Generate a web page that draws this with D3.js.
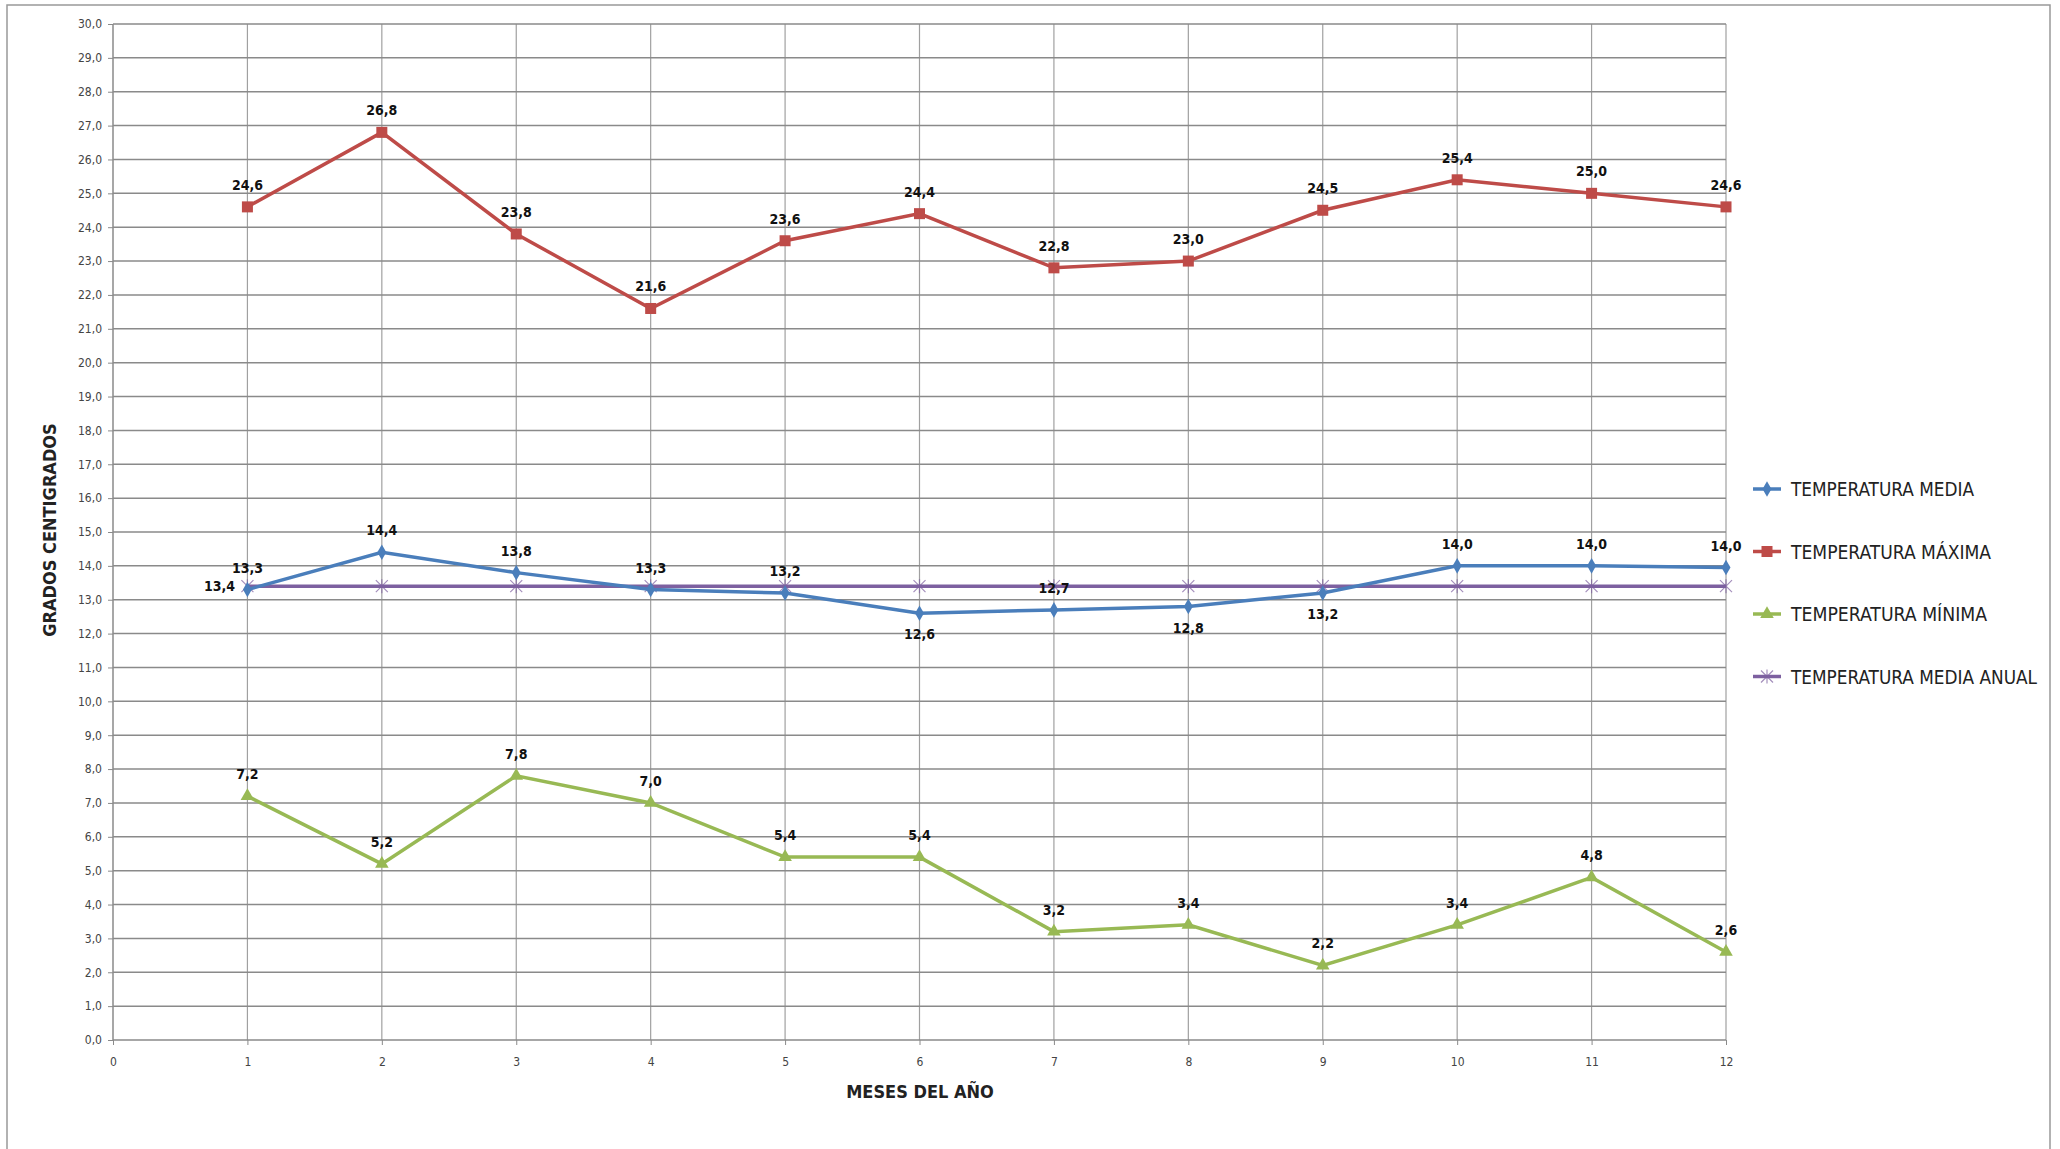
<!DOCTYPE html>
<html><head><meta charset="utf-8">
<script src="https://cdnjs.cloudflare.com/ajax/libs/d3/7.8.5/d3.min.js"></script>
<style>body{margin:0;background:#fff}svg{display:block}</style>
</head><body>
<svg id="c" width="2060" height="1149"></svg>
<script>
var months = [1,2,3,4,5,6,7,8,9,10,11,12];
var media = [13.3,14.4,13.8,13.3,13.2,12.6,12.7,12.8,13.2,14.0,14.0,13.95];
var mediaLabels = ['13,3','14,4','13,8','13,3','13,2','12,6','12,7','12,8','13,2','14,0','14,0','14,0'];
var mediaBelow = [false,false,false,false,false,true,false,true,true,false,false,false];
var maxima = [24.6,26.8,23.8,21.6,23.6,24.4,22.8,23.0,24.5,25.4,25.0,24.6];
var minima = [7.2,5.2,7.8,7.0,5.4,5.4,3.2,3.4,2.2,3.4,4.8,2.6];
var anual = [13.4,13.4,13.4,13.4,13.4,13.4,13.4,13.4,13.4,13.4,13.4,13.4];
var seriesNames = ['TEMPERATURA MEDIA','TEMPERATURA MÁXIMA','TEMPERATURA MÍNIMA','TEMPERATURA MEDIA ANUAL'];
var legendWidths = [183, 200, 196, 246];

var svg = d3.select('#c');
var fmt = function (v) { return d3.format('.1f')(v).replace('.', ','); };
var FONT = 'DejaVu Sans Condensed, Liberation Sans, sans-serif';

svg.append('rect').attr('x', 7).attr('y', 5).attr('width', 2043).attr('height', 1160)
  .attr('fill', 'none').attr('stroke', '#999').attr('stroke-width', 1.5);

var x = d3.scaleLinear().domain([0, 12]).range([113, 1726]);
var y = d3.scaleLinear().domain([0, 30]).range([1040, 24]);

// gridlines
svg.append('g').selectAll('line').data(d3.range(1, 13)).enter().append('line')
  .attr('x1', function (d) { return x(d); }).attr('x2', function (d) { return x(d); })
  .attr('y1', y(30)).attr('y2', y(0)).attr('stroke', '#a0a0a0').attr('stroke-width', 1.2);
svg.append('g').selectAll('line').data(d3.range(0, 31)).enter().append('line')
  .attr('x1', x(0)).attr('x2', x(12))
  .attr('y1', function (d) { return y(d); }).attr('y2', function (d) { return y(d); })
  .attr('stroke', '#8a8a8a').attr('stroke-width', 1.5);
svg.append('line').attr('x1', x(0)).attr('x2', x(0)).attr('y1', y(30)).attr('y2', y(0))
  .attr('stroke', '#8a8a8a').attr('stroke-width', 1.5);

// axes
var yAxis = svg.append('g').attr('transform', 'translate(' + x(0) + ',0)')
  .call(d3.axisLeft(y).tickValues(d3.range(0, 31)).tickFormat(fmt).tickSize(5).tickPadding(6));
var xAxis = svg.append('g').attr('transform', 'translate(0,' + y(0) + ')')
  .call(d3.axisBottom(x).tickValues(d3.range(0, 13)).tickFormat(d3.format('d')).tickSize(5).tickPadding(12));
[yAxis, xAxis].forEach(function (a) {
  a.select('.domain').remove();
  a.selectAll('line').attr('stroke', '#8a8a8a');
  a.selectAll('text').attr('font-family', FONT).attr('font-size', 12).attr('fill', '#444');
});

svg.append('text').attr('x', 920).attr('y', 1098).attr('text-anchor', 'middle')
  .attr('font-family', FONT).attr('font-weight', 'bold')
  .attr('font-size', 18).attr('fill', '#222').text('MESES DEL AÑO');
svg.append('text').attr('transform', 'translate(56,530) rotate(-90)').attr('text-anchor', 'middle')
  .attr('font-family', FONT).attr('font-weight', 'bold')
  .attr('font-size', 18).attr('fill', '#222').text('GRADOS CENTIGRADOS');

var colors = ['#4a7ebb', '#be4b48', '#98b954', '#7d60a0'];
var data = [media, maxima, minima, anual];
var line = d3.line().x(function (d, i) { return x(months[i]); }).y(function (d) { return y(d); });

function marker(g, k, cx, cy) {
  if (k === 0) g.append('path').attr('d', d3.symbol(d3.symbolDiamond, 70)()).attr('transform', 'translate(' + cx + ',' + cy + ')').attr('fill', colors[0]);
  if (k === 1) g.append('rect').attr('x', cx - 5.5).attr('y', cy - 5.5).attr('width', 11).attr('height', 11).attr('fill', colors[1]);
  if (k === 2) g.append('path').attr('d', d3.symbol(d3.symbolTriangle, 80)()).attr('transform', 'translate(' + cx + ',' + cy + ')').attr('fill', colors[2]);
  if (k === 3) g.append('path').attr('d', 'M-6,-6L6,6M-6,6L6,-6M0,-7L0,7').attr('transform', 'translate(' + cx + ',' + cy + ')')
    .attr('stroke', colors[3]).attr('stroke-width', 1.2).attr('fill', 'none').attr('opacity', 0.7);
}

[3, 0, 1, 2].forEach(function (k) {
  var g = svg.append('g');
  g.append('path').datum(data[k]).attr('d', line).attr('fill', 'none')
    .attr('stroke', colors[k]).attr('stroke-width', 3.5);
  data[k].forEach(function (v, i) { marker(g, k, x(months[i]), y(v)); });
});

var lab = svg.append('g').attr('font-family', FONT)
  .attr('font-weight', 'bold').attr('font-size', 14).attr('fill', '#111').attr('text-anchor', 'middle');
maxima.forEach(function (v, i) { lab.append('text').attr('x', x(months[i])).attr('y', y(v) - 17).text(fmt(v)); });
minima.forEach(function (v, i) { lab.append('text').attr('x', x(months[i])).attr('y', y(v) - 17).text(fmt(v)); });
media.forEach(function (v, i) {
  lab.append('text').attr('x', x(months[i])).attr('y', mediaBelow[i] ? y(v) + 26 : y(v) - 17).text(mediaLabels[i]);
});
lab.append('text').attr('x', x(1) - 28).attr('y', y(anual[0]) + 5).text(fmt(anual[0]));

// legend
var leg = svg.append('g');
seriesNames.forEach(function (n, k) {
  var ly = 489 + k * 62.5;
  leg.append('line').attr('x1', 1753).attr('x2', 1781).attr('y1', ly).attr('y2', ly)
    .attr('stroke', colors[k]).attr('stroke-width', 3.5);
  marker(leg, k, 1767, ly);
  leg.append('text').attr('x', 1791).attr('y', ly + 7).attr('font-family', FONT)
    .attr('font-size', 20).attr('fill', '#222')
    .attr('textLength', legendWidths[k]).attr('lengthAdjust', 'spacingAndGlyphs').text(n);
});
</script>
</body></html>
